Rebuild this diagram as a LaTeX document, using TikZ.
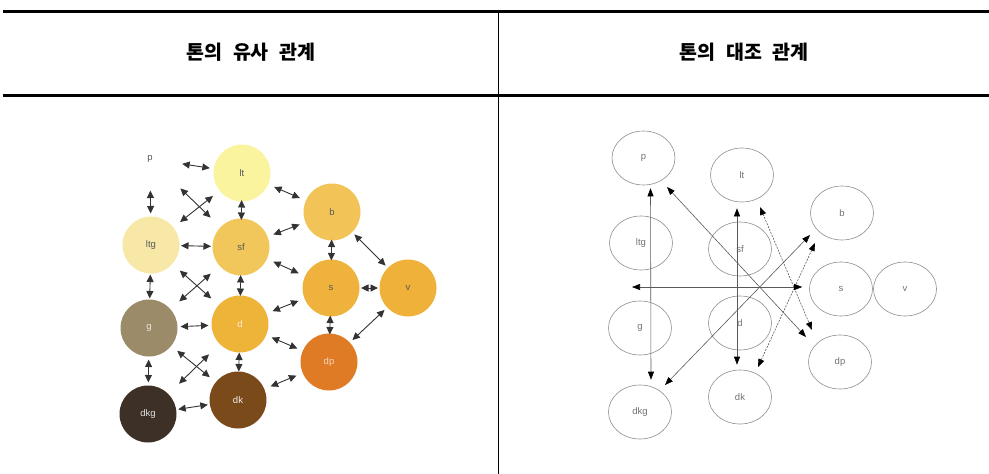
\documentclass[tikz,border=0pt]{standalone}
\usepackage{fontspec}
\setmainfont{Liberation Sans}
\newfontfamily\kr{Noto Sans CJK KR}
\usetikzlibrary{arrows.meta,calc,shapes.geometric}
\definecolor{cLt}{HTML}{FAF49E}
\definecolor{cLtg}{HTML}{F8E8A8}
\definecolor{cSf}{HTML}{F1C65A}
\definecolor{cB}{HTML}{F2C458}
\definecolor{cS}{HTML}{EFB23C}
\definecolor{cV}{HTML}{EFB13A}
\definecolor{cD}{HTML}{EEB43A}
\definecolor{cDp}{HTML}{DE7B24}
\definecolor{cG}{HTML}{9B8B68}
\definecolor{cDk}{HTML}{7A4A1B}
\definecolor{cDkg}{HTML}{3D3027}
\newcommand\larr[3]{\draw[la] ($(#1)!0.5!(#2)!#3!(#1)$) -- ($(#1)!0.5!(#2)!#3!(#2)$);}
\begin{document}
\begin{tikzpicture}[x=1pt,y=-1pt,
  lc/.style={circle, minimum size=57pt, inner sep=0pt, font=\fontsize{9.5}{10}\selectfont, text=black!65},
  rc/.style={ellipse, minimum width=63pt, minimum height=54pt, inner sep=0pt, draw=black!45, line width=0.6pt, font=\fontsize{9.5}{10}\selectfont, text=black!55},
  la/.style={<->, >={Triangle[length=7.5pt,width=7pt]}, draw=black!80, line width=0.9pt},
  ra/.style={<->, >={Triangle[length=8pt,width=6pt,color=black]}, draw=black!65, line width=0.6pt},
  rad/.style={ra, dash pattern=on 2pt off 1.2pt},
  hdr/.style={font=\kr\bfseries\fontsize{19.5}{22}\selectfont}]
\useasboundingbox (0,0) rectangle (989,474);
% table lines
\draw[line width=3pt] (3,11) -- (989,11);
\draw[line width=3pt] (3,95) -- (989,95);
\draw[line width=0.8pt] (498,11) -- (498,474);
\node[hdr] (h1) at (251,52) {톤의\hspace{11pt}유사\hspace{11pt}관계};
\node[hdr] (h2) at (744,52) {톤의\hspace{11pt}대조\hspace{11pt}관계};
% left diagram
\node[lc] (p) at (150,159) {p};
\node[lc, fill=cLt] (lt) at (242,173) {lt};
\node[lc, fill=cLtg] (ltg) at (151,245) {ltg};
\node[lc, fill=cSf] (sf) at (241,247) {sf};
\node[lc, fill=cB] (b) at (332,212) {b};
\node[lc, fill=cS] (s) at (331,288) {s};
\node[lc, fill=cV] (v) at (408,288) {v};
\node[lc, fill=cG, text=white!80!cG] (g) at (149,328) {g};
\node[lc, fill=cD, text=white!75!cD] (d) at (240,324) {d};
\node[lc, fill=cDp, text=white!70!cDp] (dp) at (329,362) {dp};
\node[lc, fill=cDkg, text=white!85!cDkg] (dkg) at (148,414) {dkg};
\node[lc, fill=cDk, text=white!90!cDk] (dk) at (238,400) {dk};
\larr{p}{lt}{14pt}
\larr{ltg}{sf}{15pt}
\larr{g}{d}{14pt}
\larr{dkg}{dk}{15pt}
\larr{p}{ltg}{11.5pt}
\larr{ltg}{g}{12pt}
\larr{g}{dkg}{11.5pt}
\larr{lt}{sf}{10pt}
\larr{sf}{d}{10.5pt}
\larr{d}{dk}{9.5pt}
\larr{b}{s}{10.5pt}
\larr{s}{dp}{9.5pt}
\larr{p}{sf}{21pt}
\larr{ltg}{lt}{21pt}
\larr{ltg}{d}{21pt}
\larr{g}{sf}{21pt}
\larr{g}{dk}{21pt}
\larr{dkg}{d}{21pt}
\larr{lt}{b}{14pt}
\larr{sf}{b}{14pt}
\larr{sf}{s}{14pt}
\larr{d}{s}{14pt}
\larr{d}{dp}{14pt}
\larr{dk}{dp}{14pt}
\larr{b}{v}{22pt}
\larr{s}{v}{8.5pt}
\larr{v}{dp}{22pt}
% right diagram
\node[rc] (rp) at (643.5,158) {p};
\node[rc] (rlt) at (742,175) {lt};
\node[rc] (rltg) at (641,243) {ltg};
\node[rc] (rsf) at (740,249) {sf};
\node[rc] (rg) at (640,328) {g};
\node[rc] (rd) at (740,323) {d};
\node[rc] (rdkg) at (640,412) {dkg};
\node[rc] (rdk) at (740,397) {dk};
\node[rc] (rb) at (842,213) {b};
\node[rc] (rs) at (841,289) {s};
\node[rc] (rv) at (905,289) {v};
\node[rc] (rdp) at (840,362) {dp};
\coordinate (free) at (632,287);
\draw[ra] ($(rp.south)+(7,3)$) -- ($(rdkg.north)+(11,-5)$);
\draw[ra] ($(rlt.south)+(-5,6)$) -- ($(rdk.north)+(-3,-5)$);
\draw[ra] ($(rp)+(23.5,29)$) -- ($(rdp)+(-34,-25)$);
\draw[rad] ($(rlt)+(18,32)$) -- ($(rdp)+(-28,-32)$);
\draw[ra] ($(rb)+(-32,22)$) -- ($(rdkg)+(25,-27)$);
\draw[rad] ($(rb)+(-27,30)$) -- ($(rdk)+(18,-30)$);
\draw[ra] ($(rs.west)+(-7,-2)$) -- (free);
\end{tikzpicture}
\end{document}
